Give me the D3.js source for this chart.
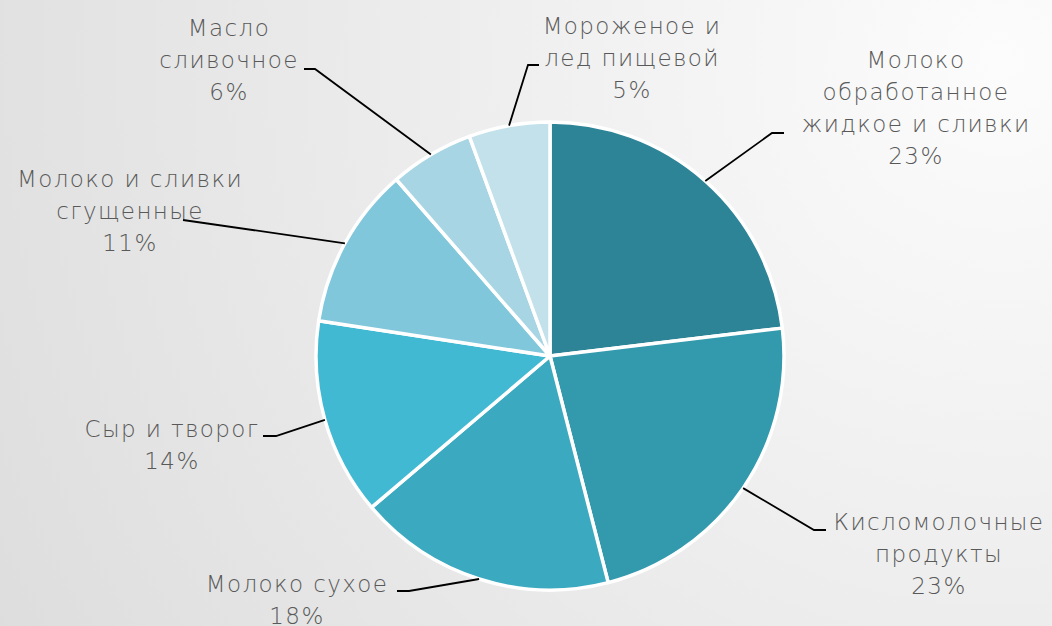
<!DOCTYPE html>
<html>
<head>
<meta charset="utf-8">
<script src="https://cdn.jsdelivr.net/npm/d3@7"></script>
<style>
  html, body { margin: 0; padding: 0; }
  svg { display: block; }
</style>
</head>
<body>
<svg id="chart"></svg>
<script>
const width = 1052;
const height = 626;

// data, clockwise from 12 o'clock
const categories = [
  "Молоко обработанное жидкое и сливки",
  "Кисломолочные продукты",
  "Молоко сухое",
  "Сыр и творог",
  "Молоко и сливки сгущенные",
  "Масло сливочное",
  "Мороженое и лед пищевой"
];
const shares = [23.1, 22.9, 17.8, 13.6, 11.2, 5.8, 5.6];
const percentLabels = ["23%", "23%", "18%", "14%", "11%", "6%", "5%"];
const labelLines = [
  ["Молоко", "обработанное", "жидкое и сливки"],
  ["Кисломолочные", "продукты"],
  ["Молоко сухое"],
  ["Сыр и творог"],
  ["Молоко и сливки", "сгущенные"],
  ["Масло", "сливочное"],
  ["Мороженое и", "лед пищевой"]
];
const colors = ["#2c8496", "#3399ad", "#3ba9bf", "#42b9d2", "#80c7db", "#a7d5e3", "#c3e1ea"];

// label placement (layout only)
const labelLayout = [
  { x: 916, y: 68,  ax: 784, ay: 133, hook: -12 },
  { x: 939, y: 530, ax: 826, ay: 530, hook: -12 },
  { x: 297, y: 592, ax: 397, ay: 591, hook: 12 },
  { x: 172, y: 437, ax: 263, ay: 436, hook: 13 },
  { x: 130, y: 187, ax: 183, ay: 220, hook: 0 },
  { x: 229, y: 36,  ax: 304, ay: 69,  hook: 11 },
  { x: 632, y: 34,  ax: 539, ay: 65,  hook: -11 }
];

const cx = 550, cy = 356, radius = 234;
const lineHeight = 32;

const svg = d3.select("#chart")
  .attr("width", width)
  .attr("height", height)
  .attr("viewBox", [0, 0, width, height]);

const defs = svg.append("defs");
const grad = defs.append("radialGradient")
  .attr("id", "bg")
  .attr("gradientUnits", "userSpaceOnUse")
  .attr("cx", 1000).attr("cy", 60).attr("r", 1200);
grad.append("stop").attr("offset", 0).attr("stop-color", "#fcfcfc");
grad.append("stop").attr("offset", 1).attr("stop-color", "#dcdcdc");

svg.append("rect")
  .attr("width", width)
  .attr("height", height)
  .attr("fill", "url(#bg)");

const data = categories.map((c, i) => ({ name: c, value: shares[i], i }));

const pie = d3.pie()
  .sort(null)
  .value(d => d.value);

const arcs = pie(data);

const arc = d3.arc()
  .innerRadius(0)
  .outerRadius(radius);

const g = svg.append("g")
  .attr("transform", `translate(${cx},${cy})`);

g.selectAll("path.slice")
  .data(arcs)
  .join("path")
  .attr("class", "slice")
  .attr("d", arc)
  .attr("fill", d => colors[d.data.i])
  .attr("stroke", "#fff")
  .attr("stroke-width", 3.5)
  .attr("stroke-linejoin", "round");

// leader lines
svg.selectAll("path.leader")
  .data(arcs)
  .join("path")
  .attr("class", "leader")
  .attr("fill", "none")
  .attr("stroke", "#000")
  .attr("stroke-width", 1.8)
  .attr("d", d => {
    const L = labelLayout[d.data.i];
    const mid = (d.startAngle + d.endAngle) / 2;
    const px = cx + radius * Math.sin(mid);
    const py = cy - radius * Math.cos(mid);
    return d3.line()([[L.ax, L.ay], [L.ax + L.hook, L.ay], [px, py]]);
  });

// labels
const labels = svg.selectAll("text.label")
  .data(arcs)
  .join("text")
  .attr("class", "label")
  .attr("text-anchor", "middle")
  .attr("font-family", "'Century Gothic', 'DejaVu Sans', sans-serif")
  .attr("font-weight", 200)
  .attr("font-size", 23)
  .attr("letter-spacing", 1.4)
  .attr("fill", "#595959");

labels.each(function (d) {
  const L = labelLayout[d.data.i];
  const lines = labelLines[d.data.i].concat([percentLabels[d.data.i]]);
  d3.select(this).selectAll("tspan")
    .data(lines)
    .join("tspan")
    .attr("x", L.x)
    .attr("y", (t, k) => L.y + k * lineHeight)
    .text(t => t);
});
</script>
</body>
</html>
